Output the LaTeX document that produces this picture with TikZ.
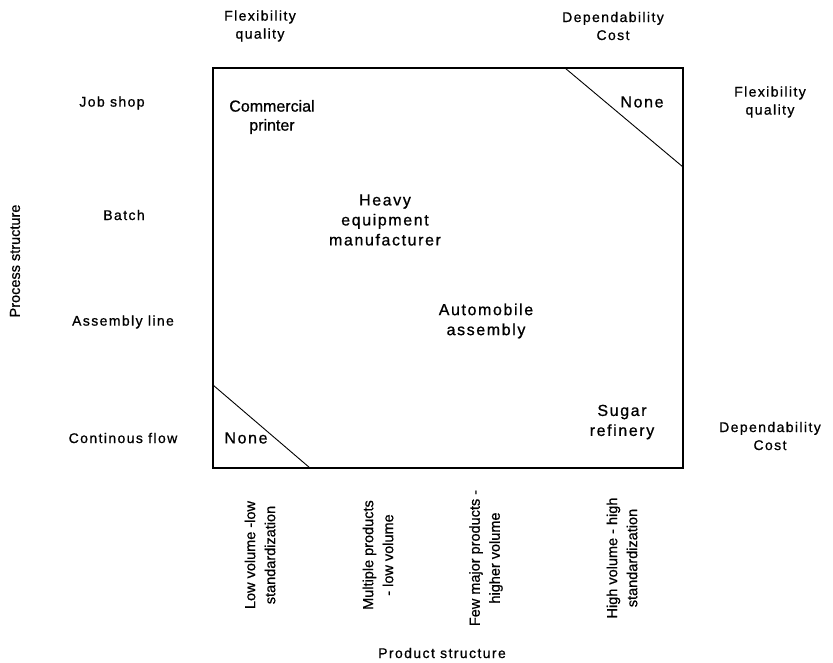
\documentclass[tikz,border=0pt]{standalone}
\usepackage{fontspec}
\setmainfont{Liberation Sans}
\newfontfamily\spacedfont[LetterSpace=10,FakeBold=0.8]{Liberation Sans}
\newfontfamily\plainfont[FakeBold=0.8]{Liberation Sans}
\begin{document}
\begin{tikzpicture}[x=1pt,y=-1pt,
  axislabel/.style={font=\spacedfont\fontsize{14}{18}\selectfont, align=center, inner sep=0pt},
  cell/.style={font=\spacedfont\fontsize{16}{20}\selectfont, align=center, inner sep=0pt},
  tightcell/.style={font=\plainfont\fontsize{16}{19}\selectfont, align=center, inner sep=0pt},
  prodlabel/.style={font=\plainfont\fontsize{14.5}{20}\selectfont, align=center, rotate=90, inner sep=0pt},
  frame/.style={line width=1.5pt},
  divider/.style={line width=0.9pt}]
\useasboundingbox (0,0) rectangle (833,662);

% matrix frame and its corners
\coordinate (nw) at (213,68);
\coordinate (se) at (683,468);
\coordinate (trA) at (565,68);
\coordinate (trB) at (683,167);
\coordinate (blA) at (213,385);
\coordinate (blB) at (310,468);
\draw[frame] (nw) rectangle (se);
\draw[divider] (trA) -- (trB);
\draw[divider] (blA) -- (blB);

% competitive priorities at the corners
\node[axislabel] (pTL) at (260,26) {Flexibility\\quality};
\node[axislabel] (pTR) at (613,26) {Dependability\\Cost};
\node[axislabel] (pRT) at (770,102) {Flexibility\\quality};
\node[axislabel] (pRB) at (770,436) {Dependability\\Cost};

% process structure rows
\node[axislabel] (rJob) at (112,103) {Job shop};
\node[axislabel] (rBatch) at (124,215) {Batch};
\node[axislabel] (rLine) at (123,322) {Assembly line};
\node[axislabel] (rFlow) at (123,438) {Continous flow};
\node[prodlabel] (pAxis) at (15,261) {Process structure};

% product structure columns
\node[prodlabel] (cLow) at (260,555) {Low volume -low\\standardization};
\node[prodlabel] (cMulti) at (378,555) {Multiple products\\- low volume};
\node[prodlabel] (cFew) at (486,558) {Few major products -\\higher volume};
\node[prodlabel] (cHigh) at (622,558) {High volume - high\\standardization};
\node[axislabel] (qAxis) at (442,653) {Product structure};

% examples inside the matrix
\node[tightcell] (printer) at (272,117) {Commercial\\printer};
\node[cell] (heavy) at (385,220) {Heavy\\equipment\\manufacturer};
\node[cell] (auto) at (486,321) {Automobile\\assembly};
\node[cell] (sugar) at (622,422) {Sugar\\refinery};
\node[cell] (noneTR) at (642,102) {None};
\node[cell] (noneBL) at (246,438) {None};
\end{tikzpicture}
\end{document}
